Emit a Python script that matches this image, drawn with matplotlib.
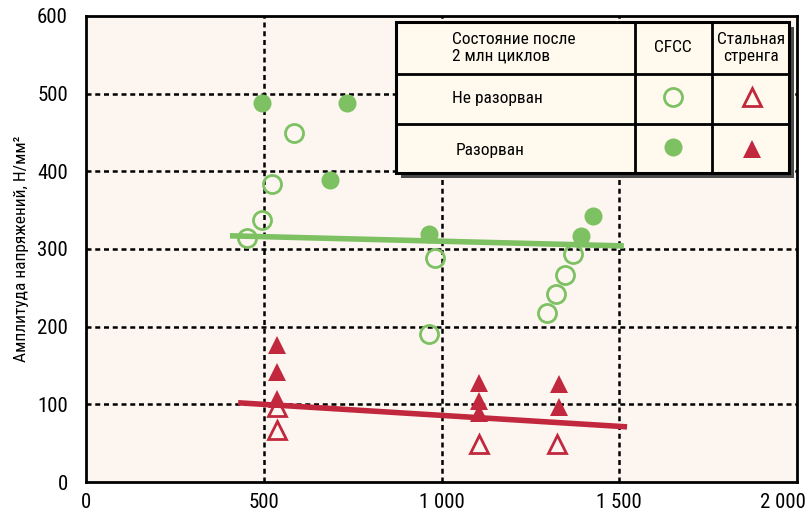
import matplotlib
matplotlib.use("Agg")
import matplotlib.pyplot as plt
import matplotlib.transforms as mtransforms
from matplotlib.patches import Rectangle
from matplotlib.lines import Line2D
from matplotlib import font_manager

plt.rcParams['font.family'] = ['DejaVu Sans']
plt.rcParams['font.stretch'] = 'condensed'
names = {f.name for f in font_manager.fontManager.ttflist}
for cand in ['Liberation Sans Narrow', 'Roboto Condensed', 'Open Sans Condensed']:
    if cand in names:
        plt.rcParams['font.family'] = [cand, 'DejaVu Sans']
        break

# Stress amplitude (N/mm^2) versus cycles parameter
cfcc_broken_x = [495, 734, 686, 965, 1392, 1426]
cfcc_broken_y = [488, 488, 389, 319, 317, 342]
cfcc_intact_x = [453, 495, 523, 585, 982, 965, 1370, 1347, 1322, 1297]
cfcc_intact_y = [314, 337, 384, 449, 288, 191, 294, 267, 242, 218]

steel_broken_x = [537, 537, 537, 1105, 1105, 1105, 1330, 1330]
steel_broken_y = [176, 142, 107, 127, 104, 89, 126, 97]
steel_intact_x = [537, 537, 1105, 1325]
steel_intact_y = [97, 67, 49, 49]

cfcc_trend_x = [405, 1513]
cfcc_trend_y = [317, 304]
steel_trend_x = [428, 1522]
steel_trend_y = [102, 71]

x_ticks = [0, 500, 1000, 1500, 2000]
x_labels = ["0", "500", "1 000", "1 500", "2 000"]
y_ticks = [0, 100, 200, 300, 400, 500, 600]
y_label = "Амплитуда напряжений, Н/мм²"

table_header = ["Состояние после\n2 млн циклов", "CFCC", "Стальная\nстренга"]
row_intact = "Не разорван"
row_broken = "Разорван"

GREEN = "#7DC163"
RED = "#C1283E"
AX_BG = "#FDF6F0"
TABLE_BG = "#FFF9EE"

W, H = 808, 512
fig = plt.figure(figsize=(W / 100, H / 100), dpi=100)
ax = fig.add_axes([86 / W, 1 - 482 / H, (797 - 86) / W, (482 - 16) / H])
ax.set_facecolor(AX_BG)
ax.set_xlim(0, 2000)
ax.set_ylim(0, 600)

# dashed grid
dash = (0, (2.0, 1.5))
for xv in [500, 1000, 1500]:
    ax.axvline(xv, color="black", lw=1.8, ls=dash, zorder=1)
for yv in [100, 200, 300, 400, 500]:
    ax.axhline(yv, color="black", lw=1.8, ls=dash, zorder=1)

for s in ax.spines.values():
    s.set_linewidth(2.0)
    s.set_color("black")

ax.set_xticks(x_ticks)
ax.set_xticklabels(x_labels)
ax.set_yticks(y_ticks)
ax.tick_params(length=0, labelsize=15)
ax.tick_params(axis='x', pad=8)
ax.tick_params(axis='y', pad=13)
ax.set_ylabel(y_label, fontsize=12.5, labelpad=6)

# keep the last x label inside the canvas
last = ax.get_xticklabels()[-1]
last.set_horizontalalignment('right')
last.set_transform(last.get_transform() +
                   mtransforms.ScaledTranslation(9 / 100, 0, fig.dpi_scale_trans))

ms = 13
# open markers
ax.plot(cfcc_intact_x, cfcc_intact_y, 'o', ms=ms, mfc='none', mec=GREEN, mew=2.0, zorder=3)
ax.plot(steel_intact_x, steel_intact_y, '^', ms=ms, mfc='none', mec=RED, mew=2.0, zorder=3)
# trend lines
ax.plot(cfcc_trend_x, cfcc_trend_y, color=GREEN, lw=4, solid_capstyle='butt', zorder=4)
ax.plot(steel_trend_x, steel_trend_y, color=RED, lw=4, solid_capstyle='butt', zorder=4)
# filled markers
ax.plot(cfcc_broken_x, cfcc_broken_y, 'o', ms=ms, color=GREEN, mew=0, zorder=5)
ax.plot(steel_broken_x, steel_broken_y, '^', ms=ms, color=RED, mew=0, zorder=5)

# legend table, drawn in pixel coordinates on an overlay
ov = fig.add_axes([0, 0, 1, 1], zorder=10)
ov.set_xlim(0, W)
ov.set_ylim(H, 0)
ov.axis('off')
ov.patch.set_alpha(0)

tx0, tx1, ty0, ty1 = 396, 789, 22, 173
ov.add_patch(Rectangle((tx0 + 5, ty0 + 5), tx1 - tx0, ty1 - ty0, color="#4A4A4A", lw=0))
ov.add_patch(Rectangle((tx0, ty0), tx1 - tx0, ty1 - ty0, facecolor=TABLE_BG, edgecolor="black", lw=2.2))
for xv in [635, 712]:
    ov.add_line(Line2D([xv, xv], [ty0, ty1], color="black", lw=2.0))
for yv in [74, 124]:
    ov.add_line(Line2D([tx0, tx1], [yv, yv], color="black", lw=2.0))

fs = 12.5
ov.text(452, 48, table_header[0], fontsize=fs, ha='left', va='center', linespacing=1.15)
ov.text(673, 48, table_header[1], fontsize=fs, ha='center', va='center')
ov.text(751, 48, table_header[2], fontsize=fs, ha='center', va='center', linespacing=1.15)
ov.text(452, 99, row_intact, fontsize=fs, ha='left', va='center')
ov.text(456, 151, row_broken, fontsize=fs, ha='left', va='center')

ov.plot([673], [97], 'o', ms=ms, mfc='none', mec=GREEN, mew=2.0)
ov.plot([673], [147], 'o', ms=ms, color=GREEN, mew=0)
ov.plot([752], [97], '^', ms=ms, mfc='none', mec=RED, mew=2.0)
ov.plot([752], [149], '^', ms=ms, color=RED, mew=0)

fig.savefig("out.png", dpi=100)
